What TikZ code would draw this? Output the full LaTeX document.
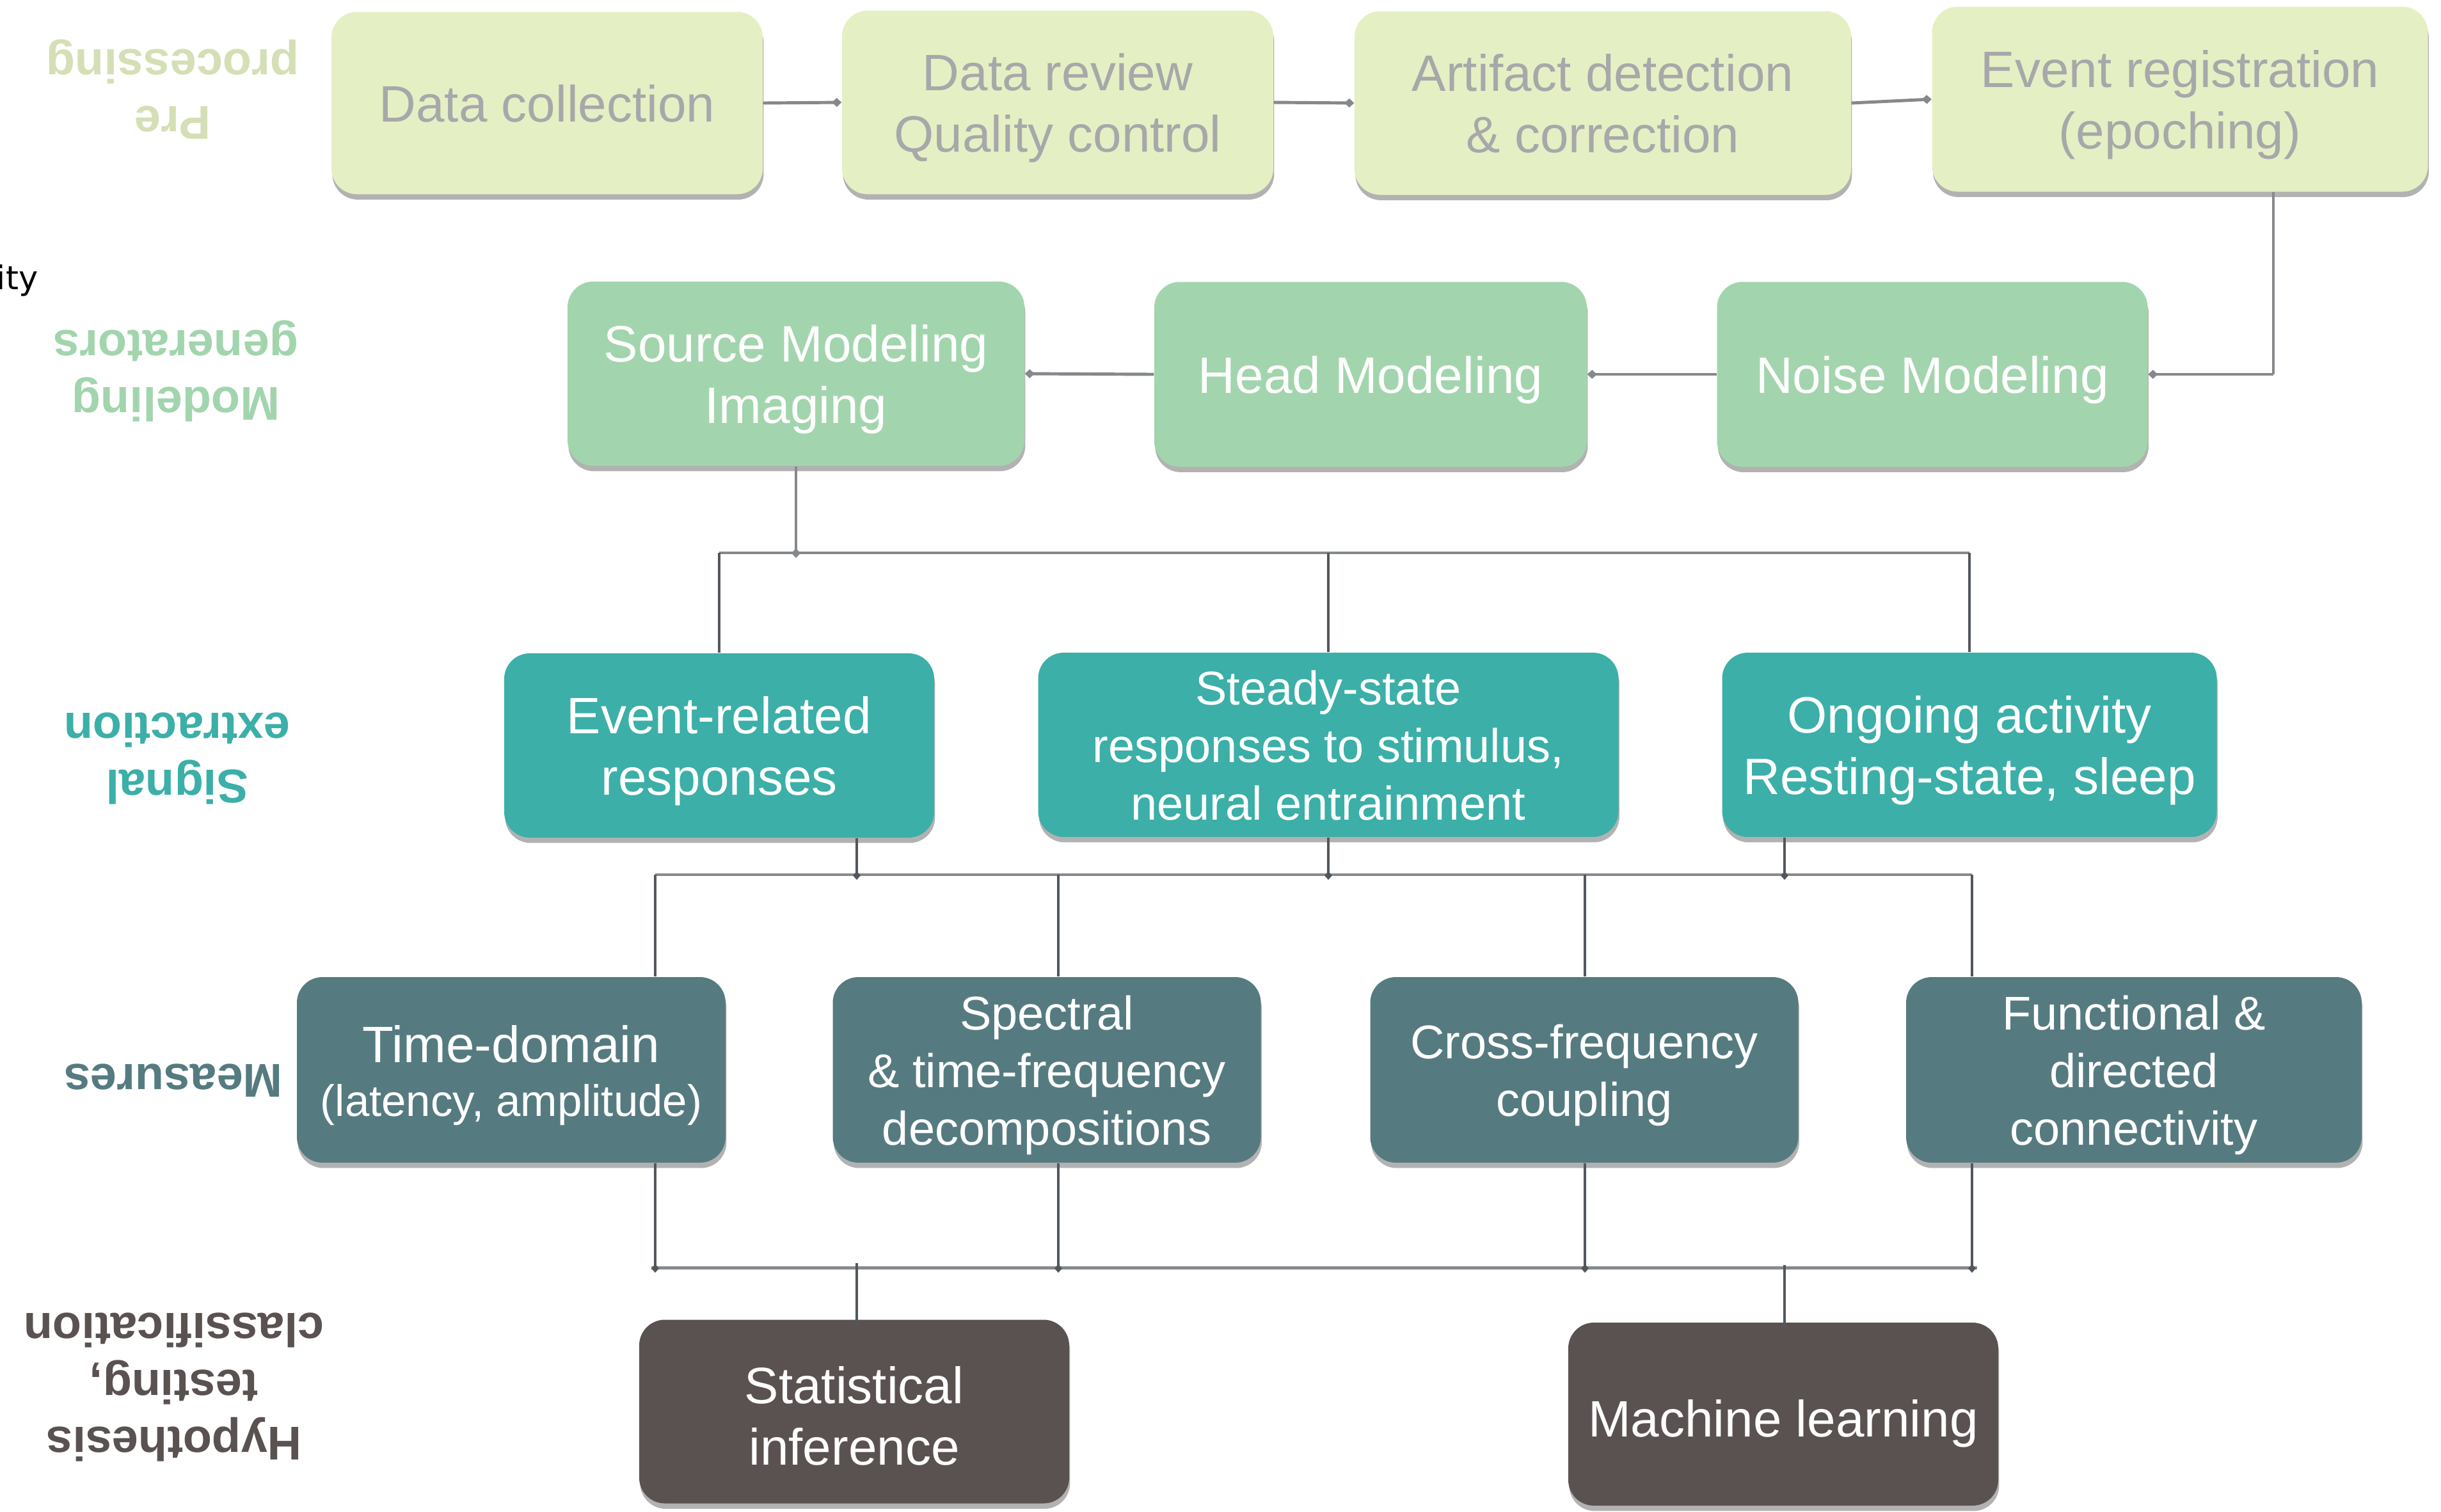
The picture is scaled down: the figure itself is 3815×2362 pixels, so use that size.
\documentclass[tikz,border=0pt]{standalone}
\usepackage{fontspec}
\setmainfont{Liberation Sans}
\newfontfamily\fragfont{DejaVu Sans}
\usetikzlibrary{arrows.meta,shadows,calc}

\definecolor{preFill}{HTML}{E5EFC4}
\definecolor{preLabel}{HTML}{D5DFB5}
\definecolor{preText}{HTML}{A6A8A9}
\definecolor{modFill}{HTML}{A2D5AD}
\definecolor{sigFill}{HTML}{3BAFA8}
\definecolor{measFill}{HTML}{557B80}
\definecolor{hypFill}{HTML}{5A5250}
\definecolor{busGrey}{HTML}{86898C}
\definecolor{wireGrey}{HTML}{52575D}

% box text sizes (1 unit = 0.01cm)
\newcommand\boxfontA{\fontsize{22.76}{27.3}\selectfont}
\newcommand\boxfontB{\fontsize{21.05}{25.6}\selectfont}
\newcommand\boxfontC{\fontsize{19.6}{25}\selectfont}
\newcommand\labelfont{\fontsize{21.05}{25.3}\selectfont\bfseries}
% centred lines, lowered a little so the capitals sit in the middle of the box
\newcommand\boxtext[2][0.1cm]{\raisebox{-#1}[\height][\depth]{\begin{tabular}{@{}c@{}}#2\end{tabular}}}

\begin{document}
\begin{tikzpicture}[x=0.01cm,y=-0.01cm,
  box/.style={rounded corners=0.4cm, inner sep=0pt, text=white,
    font=\boxfontA,
    drop shadow={shadow xshift=0.4pt, shadow yshift=-2.4pt, opacity=0.3, fill=black}},
  sz/.style 2 args={minimum width=#1*0.01cm, minimum height=#2*0.01cm},
  prebox/.style={box, fill=preFill, text=preText},
  modbox/.style={box, fill=modFill},
  sigbox/.style={box, fill=sigFill},
  measbox/.style={box, fill=measFill},
  hypbox/.style={box, fill=hypFill},
  lab/.style={rotate=180, align=center, font=\labelfont, inner sep=0pt},
  diamondtip/.style={-{Turned Square[length=4.3pt,width=4pt]}},
  flow/.style={draw=busGrey, line width=1.4pt, diamondtip},
  thinflow/.style={draw=busGrey, line width=1.0pt},
  bus/.style={draw=busGrey, line width=1.4pt},
  feed/.style={draw=busGrey, line width=1.2pt, diamondtip},
  wire/.style={draw=wireGrey, line width=1.1pt},
  wirearrow/.style={wire, -{Turned Square[length=3.8pt,width=3.4pt]}}
]
\useasboundingbox (0,0) rectangle (3815,2362);

% stage labels, set upside down
\node[lab, text=preLabel] (lpre) at (270,140) {Pre\\processing};
\node[lab, text=modFill] (lmod) at (275,580) {Modeling\\generators};
\node[lab, text=sigFill] (lsig) at (277,1185) {Signal\\extraction};
\node[lab, text=measFill] (lmeas) at (271,1689) {Measures};
\node[lab, text=hypFill] (lhyp) at (272,2168) {Hypothesis\\testing,\\classification};
\node[anchor=base east, inner sep=0pt, font=\fragfont\fontsize{14.5}{17}\selectfont] (frag) at (60,452) {ity};

% pre-processing
\node[prebox, sz={674}{285}] (dc) at (855,161) {\boxtext{Data collection}};
\node[prebox, sz={674}{287}] (dr) at (1653,160) {\boxtext{Data review\\Quality control}};
\node[prebox, sz={776}{287}] (ad) at (2505,161) {\boxtext{Artifact detection\\\& correction}};
\node[prebox, sz={775}{289}] (er) at (3407,155) {\boxtext{Event registration\\(epoching)}};

% modeling generators
\node[modbox, sz={714}{288}] (sm) at (1244,584) {\boxtext{Source Modeling\\Imaging}};
\node[modbox, sz={676}{289}] (hm) at (2142,585) {\boxtext{Head Modeling}};
\node[modbox, sz={673}{289}] (nm) at (3020,585) {\boxtext{Noise Modeling}};

% signal extraction
\node[sigbox, sz={672}{288}] (erp) at (1124,1165) {\boxtext{Event-related\\responses}};
\node[sigbox, sz={907}{288}, font=\boxfontB] (ss) at (2076,1164) {\boxtext[0.095cm]{Steady-state\\responses to stimulus,\\neural entrainment}};
\node[sigbox, sz={773}{288}] (oa) at (3078,1164) {\boxtext{Ongoing activity\\Resting-state, sleep}};

% measures
\node[measbox, sz={670}{290}] (td) at (799,1672) {\boxtext[0.11cm]{Time-domain\\[-3.4pt]\boxfontC (latency, amplitude)}};
\node[measbox, sz={669}{290}, font=\boxfontB] (sp) at (1636,1672) {\boxtext[0.095cm]{Spectral\\\& time-frequency\\decompositions}};
\node[measbox, sz={669}{290}, font=\boxfontB] (cf) at (2476,1672) {\boxtext[0.095cm]{Cross-frequency\\coupling}};
\node[measbox, sz={712}{290}, font=\boxfontB] (fc) at (3335,1672) {\boxtext[0.095cm]{Functional \&\\directed\\connectivity}};

% hypothesis testing
\node[hypbox, sz={672}{287}] (si) at (1335,2206) {\boxtext[0.16cm]{Statistical\\inference}};
\node[hypbox, sz={672}{286}] (ml) at (2787,2210) {\boxtext[0.16cm]{Machine learning}};

% pre-processing chain
\draw[flow] (dc.east) -- (dr.west);
\draw[flow] (dr.east) -- (ad.west);
\draw[flow] (ad.east) -- (er.west);

% back along the modeling row
\coordinate (erdrop) at (3553,0);
\draw[thinflow] (er.south -| erdrop) -- (erdrop |- nm.east);
\draw[flow] (erdrop |- nm.east) -- (nm.east);
\draw[flow] (nm.west) -- (hm.east);
\draw[flow] (hm.west) -- (sm.east);

% first distribution bus
\coordinate (bus1) at (0,864);
\draw[bus] (erp.north |- bus1) -- (oa.north |- bus1);
\draw[feed] (sm.south) -- ($(sm.south |- bus1)+(0,8)$);
\draw[wire] (erp.north |- bus1) -- (erp.north);
\draw[wire] (ss.north |- bus1) -- (ss.north);
\draw[wire] (oa.north |- bus1) -- (oa.north);

% second distribution bus
\coordinate (bus2) at (0,1367);
\coordinate (xa) at (1024,0);
\coordinate (xb) at (1654,0);
\coordinate (xc) at (2477,0);
\coordinate (xd) at (3082,0);
\coordinate (xe) at (1339,0);
\coordinate (xf) at (2789,0);
\draw[bus] (xa |- bus2) -- (xd |- bus2);
\draw[wirearrow] (erp.south -| xe) -- ($(xe |- bus2)+(0,8)$);
\draw[wirearrow] (ss.south) -- ($(ss.south |- bus2)+(0,8)$);
\draw[wirearrow] (oa.south -| xf) -- ($(xf |- bus2)+(0,8)$);
\draw[wire] (xa |- bus2) -- (td.north -| xa);
\draw[wire] (xb |- bus2) -- (sp.north -| xb);
\draw[wire] (xc |- bus2) -- (cf.north -| xc);
\draw[wire] (xd |- bus2) -- (fc.north -| xd);

% third distribution bus
\coordinate (bus3) at (0,1981);
\draw[bus] ($(xa |- bus3)+(-6,0)$) -- ($(xd |- bus3)+(8,0)$);
\draw[wirearrow] (td.south -| xa) -- ($(xa |- bus3)+(0,8)$);
\draw[wirearrow] (sp.south -| xb) -- ($(xb |- bus3)+(0,8)$);
\draw[wirearrow] (cf.south -| xc) -- ($(xc |- bus3)+(0,8)$);
\draw[wirearrow] (fc.south -| xd) -- ($(xd |- bus3)+(0,8)$);
\draw[wire] ($(xe |- bus3)+(0,-7)$) -- ($(si.north -| xe)+(0,11)$);
\draw[wire] ($(xf |- bus3)+(0,-4)$) -- ($(ml.north -| xf)+(0,10)$);
\end{tikzpicture}
\end{document}
